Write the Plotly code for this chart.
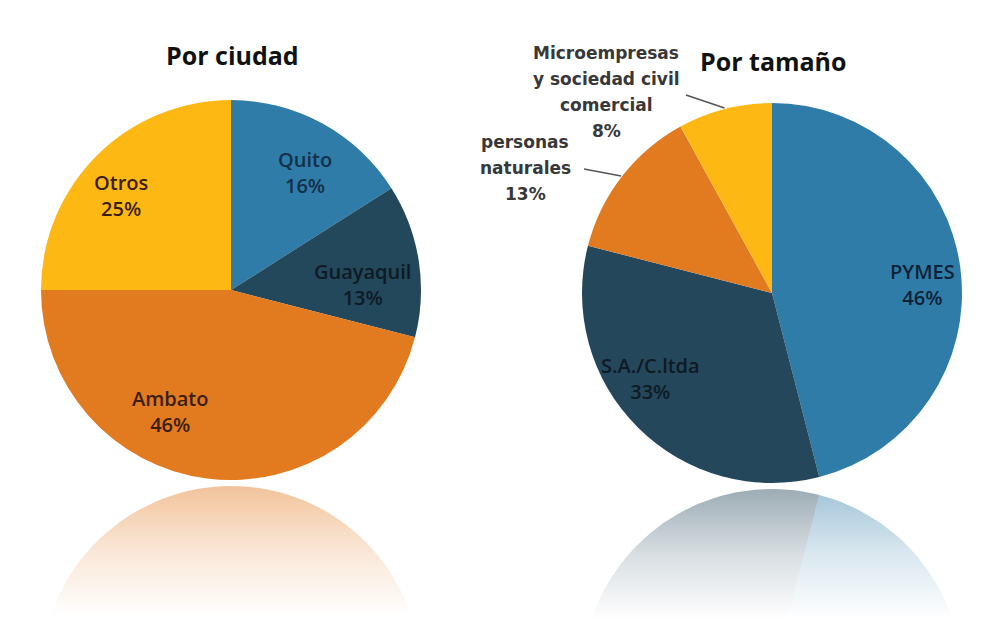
import numpy as np
import plotly.graph_objects as go

# ---------------- data ----------------
city_labels = ["Quito", "Guayaquil", "Ambato", "Otros"]
city_values = [16, 13, 46, 25]
city_colors = ["#2E7CA7", "#23475B", "#E27A20", "#FDB813"]
city_text_colors = ["#14304A", "#0E1A24", "#3A200C", "#3A200C"]

size_labels = ["PYMES", "S.A./C.ltda", "personas<br>naturales",
               "Microempresas<br>y sociedad civil<br>comercial"]
size_values = [46, 33, 13, 8]
size_colors = ["#2F7CA8", "#24475B", "#E27A20", "#FDB813"]
size_text_colors = ["#0E2236", "#0E1A24", "#383838", "#383838"]

titles = ["Por ciudad", "Por tamaño"]

# ---------------- layout geometry (pixels) ----------------
W, H = 1000, 631
R = 190
centers = [(231, 290), (772, 293)]
GAP = 6
LINE = 26  # line spacing of outside labels

# label centre positions (pixels) for each slice
city_label_pos = [(305, 172), (362, 284), (170, 411), (121, 195)]
size_label_pos = [(922, 284), (650, 378), (525, 168), (606, 92)]
size_label_inside = [True, True, False, False]
leader_tail = [None, None, (584, 169), (686, 95)]
title_pos = [(232, 55), (773, 61)]


def px2paper(x, y):
    return x / W, 1 - y / H


fig = go.Figure()


def add_reflection(values, colors, cx, cy):
    """Mirror image of the pie below it, faded with a vertical gradient."""
    total = float(sum(values))
    top = cy + R + GAP
    cy_ref = top + R
    start = 0.0
    for v, c in zip(values, colors):
        a0 = start / total * 2 * np.pi
        a1 = (start + v) / total * 2 * np.pi
        start += v
        th = np.linspace(a0, a1, 80)
        xs = np.concatenate([[cx], cx + R * np.sin(th), [cx]])
        ys = np.concatenate([[cy_ref], cy_ref + R * np.cos(th), [cy_ref]])
        r_, g_, b_ = (int(c[i:i + 2], 16) for i in (1, 3, 5))
        fig.add_trace(go.Scatter(
            x=xs, y=ys, mode="lines", line=dict(width=0),
            fill="toself",
            fillgradient=dict(
                type="vertical",
                colorscale=[[0, f"rgba({r_},{g_},{b_},0.45)"],
                            [0.5, f"rgba({r_},{g_},{b_},0.18)"],
                            [1, f"rgba({r_},{g_},{b_},0.0)"]],
                start=top, stop=top + 130),
            hoverinfo="skip", showlegend=False))


for (cx, cy), vals, cols in zip(centers, [city_values, size_values],
                                [city_colors, size_colors]):
    add_reflection(vals, cols, cx, cy)

for (cx, cy), labs, vals, cols in zip(centers, [city_labels, size_labels],
                                      [city_values, size_values],
                                      [city_colors, size_colors]):
    x0, y1 = px2paper(cx - R, cy - R)
    x1, y0 = px2paper(cx + R, cy + R)
    fig.add_trace(go.Pie(
        labels=[l.replace("<br>", " ") for l in labs], values=vals,
        sort=False, direction="clockwise", rotation=0,
        marker=dict(colors=cols, line=dict(width=0)),
        textinfo="none", showlegend=False,
        domain=dict(x=[x0, x1], y=[y0, y1])))

annotations = []
shapes = []
# titles
for t, (tx, ty) in zip(titles, title_pos):
    px_, py_ = px2paper(tx, ty)
    annotations.append(dict(
        x=px_, y=py_, xref="paper", yref="paper",
        xanchor="center", yanchor="middle",
        text=f"<b>{t}</b>", showarrow=False,
        font=dict(family="Open Sans", size=25, color="#111111")))

# left pie labels
for lab, v, (lx, ly), tc in zip(city_labels, city_values, city_label_pos,
                                city_text_colors):
    px_, py_ = px2paper(lx, ly)
    annotations.append(dict(
        x=px_, y=py_, xref="paper", yref="paper",
        xanchor="center", yanchor="middle",
        text=f"{lab}<br>{v}%", showarrow=False,
        font=dict(family="Open Sans", size=20, weight=600, color=tc)))

# right pie labels
cx, cy = centers[1]
total = float(sum(size_values))
cum = 0.0
for lab, v, (lx, ly), inside, tail, tc in zip(size_labels, size_values,
                                              size_label_pos, size_label_inside,
                                              leader_tail, size_text_colors):
    mid = (cum + v / 2) / total * 2 * np.pi
    cum += v
    if inside:
        px_, py_ = px2paper(lx, ly)
        annotations.append(dict(
            x=px_, y=py_, xref="paper", yref="paper",
            xanchor="center", yanchor="middle",
            text=f"{lab}<br>{v}%", showarrow=False,
            font=dict(family="Open Sans", size=20, weight=600, color=tc)))
    else:
        lines = lab.split("<br>") + [f"{v}%"]
        n = len(lines)
        for i, s in enumerate(lines):
            px_, py_ = px2paper(lx, ly + (i - (n - 1) / 2) * LINE)
            annotations.append(dict(
                x=px_, y=py_, xref="paper", yref="paper",
                xanchor="center", yanchor="middle",
                text=s, showarrow=False,
                font=dict(family="DejaVu Sans", size=17, weight="bold",
                          color=tc)))
        ex = cx + (R + 1) * np.sin(mid)
        ey = cy - (R + 1) * np.cos(mid)
        tx0, ty0 = px2paper(*tail)
        hx, hy = px2paper(ex, ey)
        shapes.append(dict(type="line", xref="paper", yref="paper",
                           x0=tx0, y0=ty0, x1=hx, y1=hy,
                           line=dict(color="#555555", width=1.6)))

fig.update_layout(
    width=W, height=H, margin=dict(l=0, r=0, t=0, b=0),
    paper_bgcolor="white", plot_bgcolor="white",
    xaxis=dict(range=[0, W], visible=False, fixedrange=True),
    yaxis=dict(range=[H, 0], visible=False, fixedrange=True),
    annotations=annotations, shapes=shapes,
)

fig.write_html(
    "out.html",
    config={"displayModeBar": False},
    post_script="document.body.style.margin='0px';"
                "document.body.style.overflow='hidden';",
)
